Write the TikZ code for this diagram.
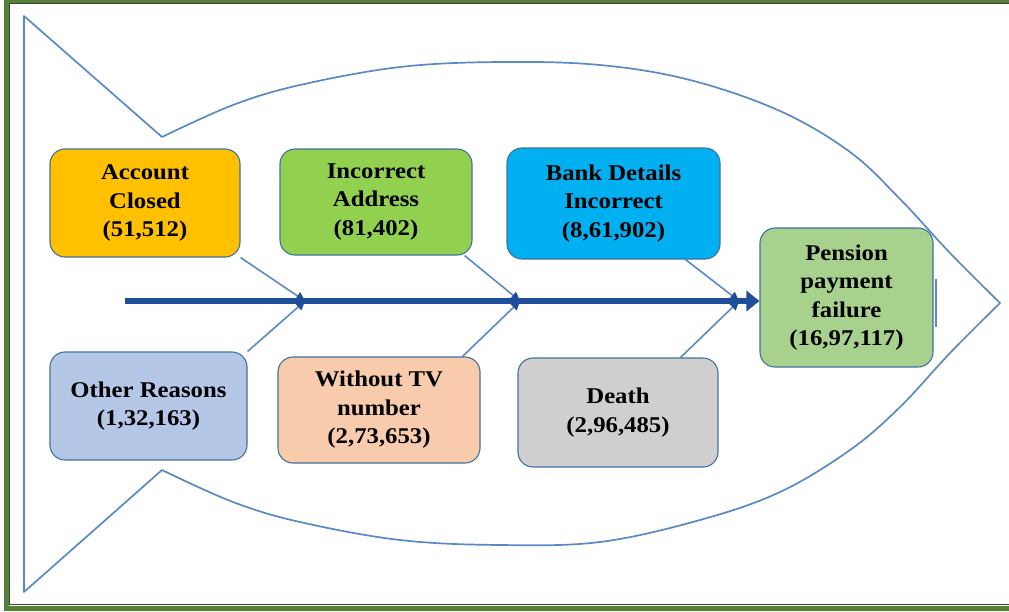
\documentclass[tikz,border=0pt]{standalone}
\usepackage{fontspec}
\setmainfont{Liberation Serif}[FakeStretch=1.1]
\usetikzlibrary{arrows.meta,calc,backgrounds}

\definecolor{framegreen}{HTML}{548235}
\definecolor{boxline}{HTML}{41719C}
\definecolor{fishline}{HTML}{5A8AC6}
\definecolor{spineblue}{HTML}{1F4E9B}
\definecolor{accfill}{HTML}{FFC000}
\definecolor{addrfill}{HTML}{92D050}
\definecolor{bankfill}{HTML}{00B0F0}
\definecolor{penfill}{HTML}{A9D18E}
\definecolor{othfill}{HTML}{B4C7E7}
\definecolor{tvfill}{HTML}{F8CBAD}
\definecolor{deathfill}{HTML}{D0CECE}

\begin{document}
\begin{tikzpicture}[x=1pt,y=-1pt,
    cause/.style={draw=boxline, line width=1.1pt, rounded corners=15pt,
      align=center, inner sep=0pt,
      font=\fontsize{22.5}{28.5}\selectfont\bfseries},
    bone/.style={draw=fishline, line width=1.6pt,
      -{Triangle[length=9pt,width=9pt,color=spineblue]}}]
  \path[use as bounding box, clip] (0,0) rectangle (1009,611);
  \draw[framegreen, line width=5pt] (6.5,0.5) rectangle (1015,608.5);
  \draw[black!75, line width=1pt] (9.5,3.5) rectangle (1015,604);
  % fish outline
  \draw[fishline, line width=1.7pt, line join=round] (24,16) -- (162,137)
    -- plot[smooth, tension=0.6] coordinates {(162,137) (233,105) (300,85)
      (400,67) (500,62) (600,65) (690,80) (780,111) (850,152) (900,199)
      (950,253) (1000,303)}
    -- plot[smooth, tension=0.6] coordinates {(1000,303) (950,353)
      (900,407) (850,450) (780,492) (700,520) (600,542) (500,545)
      (400,540) (300,522) (233,502) (162,470)}
    -- (24,592) -- cycle;
  % causes
  \node[cause, fill=accfill, minimum width=190pt, minimum height=108pt]
    (acc) at (145,203) {Account\\Closed\\(51,512)};
  \node[cause, fill=addrfill, minimum width=192pt, minimum height=106pt]
    (addr) at (376,202) {Incorrect\\Address\\(81,402)};
  \node[cause, fill=bankfill, minimum width=213pt, minimum height=111pt]
    (bank) at (613.5,203.5) {Bank Details\\Incorrect\\(8,61,902)};
  \node[cause, fill=othfill, minimum width=197pt, minimum height=108pt]
    (oth) at (148.5,406) {Other Reasons\\(1,32,163)};
  \node[cause, fill=tvfill, minimum width=202pt, minimum height=106pt]
    (tv) at (379,410) {Without TV\\number\\(2,73,653)};
  \node[cause, fill=deathfill, minimum width=200pt, minimum height=109pt]
    (death) at (618,412.5) {Death\\(2,96,485)};
  \node[cause, fill=penfill, minimum width=173pt, minimum height=139pt]
    (pen) at (846.5,297.5) {Pension\\payment\\failure\\(16,97,117)};
  \draw[fishline, line width=2pt] ($(pen.east)+(2,-19)$) -- ($(pen.east)+(2,29)$);
  % spine and bones
  \coordinate (tail) at (125,301);
  \coordinate (j1) at (305,301);
  \coordinate (j2) at (520,301);
  \coordinate (j3) at (739,301);
  \begin{scope}[on background layer]
    \draw[spineblue, line width=5.5pt, -{Triangle[length=13pt,width=20pt]}]
      (tail) -- (tail -| pen.west);
    \draw[bone] (acc.south east) -- (j1);
    \draw[bone] (oth.north east) -- (j1);
    \draw[bone] ([xshift=-8pt]addr.south east) -- (j2);
    \draw[bone] ([xshift=-18pt]tv.north east) -- (j2);
    \draw[bone] ([xshift=-35pt]bank.south east) -- (j3);
    \draw[bone] ([xshift=-38pt]death.north east) -- (j3);
  \end{scope}
\end{tikzpicture}
\end{document}
